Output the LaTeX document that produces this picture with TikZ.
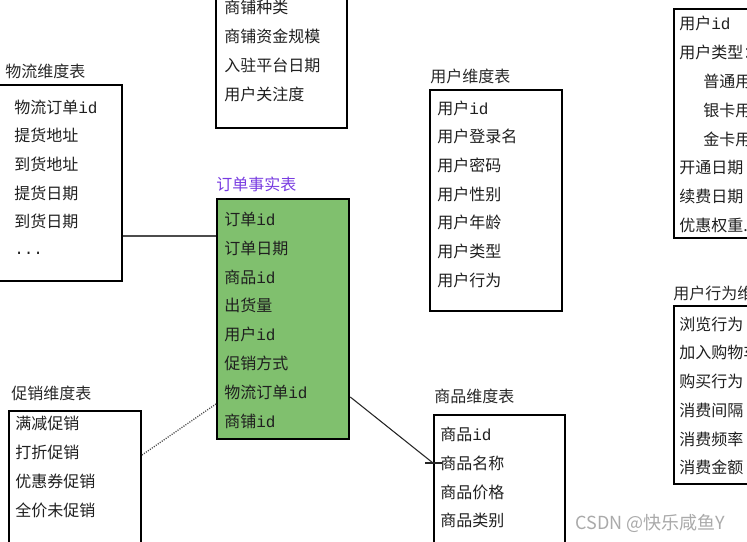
\documentclass[tikz,border=0pt]{standalone}
\usepackage{fontspec}
\newfontfamily\cjk{Noto Sans CJK SC}
\newfontfamily\mono{Liberation Mono}
\newcommand{\ID}{{\mono id}}
\definecolor{factgreen}{RGB}{128,192,110}
\definecolor{titlegray}{RGB}{40,40,40}
\definecolor{titlepurple}{RGB}{120,60,225}
\definecolor{wmgray}{RGB}{170,170,170}
\begin{document}
\begin{tikzpicture}[x=0.75pt,y=-0.75pt,
  tbox/.style={draw=black,line width=1.5pt,anchor=north west,inner sep=0pt},
  fbox/.style={tbox,fill=factgreen,line width=1.7pt},
  item/.style={anchor=west,inner sep=0pt,font=\cjk\fontsize{12pt}{14pt}\selectfont,text=black!88},
  ttl/.style={anchor=west,inner sep=0pt,font=\cjk\fontsize{12pt}{14pt}\selectfont,text=titlegray},
  link/.style={line width=0.8pt,black!85}]
\useasboundingbox (0,0) rectangle (747,542);
\clip (0,0) rectangle (747,542);
\fill[white] (0,0) rectangle (747,542);

% 物流维度表
\node[ttl] (wlt) at (5,71) {物流维度表};
\node[tbox,minimum width=93pt,minimum height=147pt] (wl) at (-3,84) {};
\node[item] (wl1) at (14,107) {物流订单\ID};
\node[item] (wl2) at (14,135) {提货地址};
\node[item] (wl3) at (14,164) {到货地址};
\node[item] (wl4) at (14,193) {提货日期};
\node[item] (wl5) at (14,221) {到货日期};
\node[item] (wl6) at (14,253) {\mono ...};

% 商铺 box (top)
\node[tbox,minimum width=98.25pt,minimum height=110.25pt] (sp) at (215,-20) {};
\node[item] (sp1) at (224,7) {商铺种类};
\node[item] (sp2) at (224,36) {商铺资金规模};
\node[item] (sp3) at (224,65) {入驻平台日期};
\node[item] (sp4) at (224,94) {用户关注度};

% 订单事实表
\node[ttl,text=titlepurple] (ft) at (216,184) {订单事实表};
\node[fbox,minimum width=99pt,minimum height=180pt] (fact) at (216,198) {};
\node[item] (f1) at (224,219) {订单\ID};
\node[item] (f2) at (224,248) {订单日期};
\node[item] (f3) at (224,277) {商品\ID};
\node[item] (f4) at (224,305) {出货量};
\node[item] (f5) at (224,334) {用户\ID};
\node[item] (f6) at (224,363) {促销方式};
\node[item] (f7) at (224,392) {物流订单\ID};
\node[item] (f8) at (224,421) {商铺\ID};

% 用户维度表
\node[ttl] (udt) at (430,76) {用户维度表};
\node[tbox,minimum width=99pt,minimum height=165.75pt] (ud) at (429,89) {};
\node[item] (ud1) at (437,108) {用户\ID};
\node[item] (ud2) at (437,136) {用户登录名};
\node[item] (ud3) at (437,165) {用户密码};
\node[item] (ud4) at (437,194) {用户性别};
\node[item] (ud5) at (437,222) {用户年龄};
\node[item] (ud6) at (437,251) {用户类型};
\node[item] (ud7) at (437,280) {用户行为};

% 右上
\node[tbox,minimum width=100pt,minimum height=171.75pt] (ut) at (673,8) {};
\node[item] (ut1) at (679,23) {用户\ID};
\node[item] (ut2) at (679,52) {用户类型：};
\node[item] (ut3) at (703,81) {普通用户};
\node[item] (ut4) at (703,110) {银卡用户};
\node[item] (ut5) at (703,139) {金卡用户};
\node[item] (ut6) at (679,168) {开通日期};
\node[item] (ut7) at (679,196) {续费日期};
\node[item] (ut8) at (679,225) {优惠权重...};

% 用户行为维度表
\node[ttl] (ubt) at (673,293) {用户行为维度表};
\node[tbox,minimum width=100pt,minimum height=133.5pt] (ub) at (673,305) {};
\node[item] (ub1) at (679,324) {浏览行为};
\node[item] (ub2) at (679,352) {加入购物车};
\node[item] (ub3) at (679,381) {购买行为};
\node[item] (ub4) at (679,410) {消费间隔};
\node[item] (ub5) at (679,439) {消费频率};
\node[item] (ub6) at (679,467) {消费金额};

% 促销维度表
\node[ttl] (cxt) at (11,393) {促销维度表};
\node[tbox,minimum width=99pt,minimum height=120pt] (cx) at (8,410) {};
\node[item] (cx1) at (15,423) {满减促销};
\node[item] (cx2) at (15,452) {打折促销};
\node[item] (cx3) at (15,481) {优惠券促销};
\node[item] (cx4) at (15,510) {全价未促销};

% 商品维度表
\node[ttl] (spt) at (434,396) {商品维度表};
\node[tbox,minimum width=98.25pt,minimum height=120pt] (sk) at (433,414) {};
\node[item] (sk1) at (440,434) {商品\ID};
\node[item] (sk2) at (440,463) {商品名称};
\node[item] (sk3) at (440,492) {商品价格};
\node[item] (sk4) at (440,520) {商品类别};

% connectors
\coordinate (ya) at (0,236);
\coordinate (yb) at (0,455);
\coordinate (yc) at (0,404);
\coordinate (yd) at (0,397);
\coordinate (ye) at (0,463);
\draw[link,black!70] (wl.east |- ya) -- (fact.west |- ya);
\draw[link,black!70,densely dotted,line width=1pt] (cx.east |- yb) -- (fact.west |- yc);
\draw[link] (fact.east |- yd) -- (sk.west |- ye);
\coordinate (tk1) at ([xshift=-6]sk.west |- ye);
\coordinate (tk2) at ([xshift=7]sk.west |- ye);
\draw[link] (tk1) -- (tk2);

% watermark
\node[anchor=west,inner sep=0pt,text=wmgray,font=\fontspec{Noto Sans CJK SC}\fontsize{13.5pt}{15pt}\selectfont] (wm) at (575,523) {CSDN @快乐咸鱼Y};
\end{tikzpicture}
\end{document}
